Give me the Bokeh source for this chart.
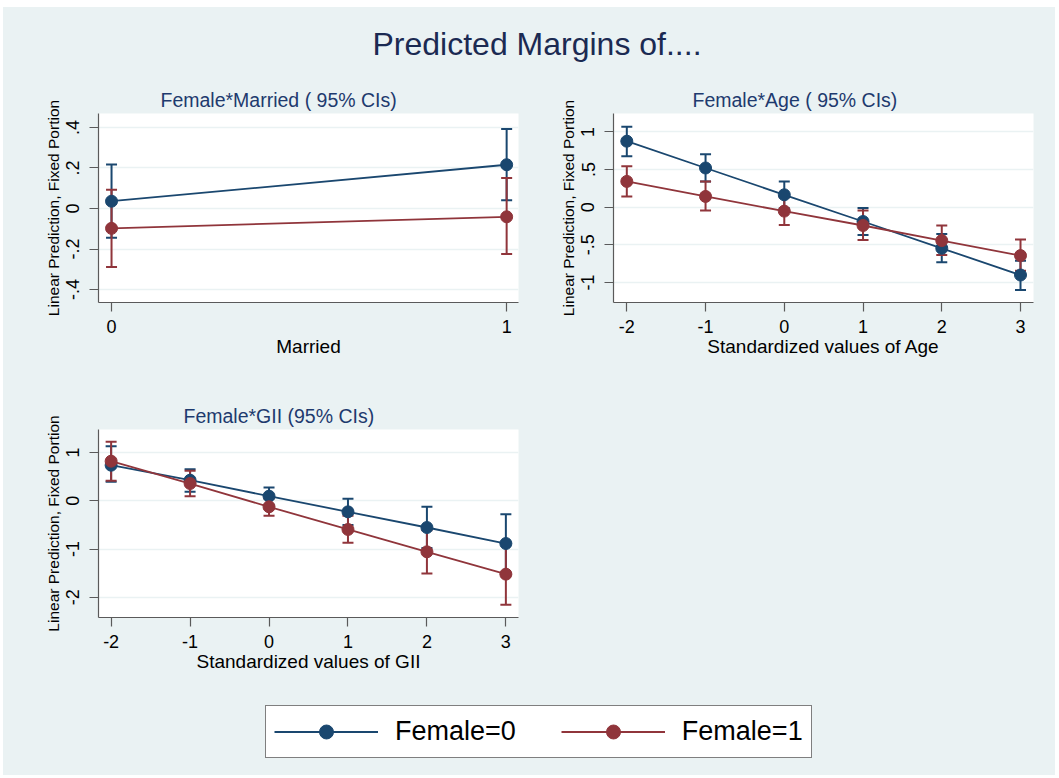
import math
from bokeh.plotting import figure
from bokeh.layouts import column, row
from bokeh.models import FixedTicker, Legend, LegendItem, ColumnDataSource, Spacer
from bokeh.embed import file_html
from bokeh.resources import INLINE

BG = "#EAF2F3"
NAVY = "#1A476F"
MAROON = "#90353B"
AXIS = "#5A5A5A"
SUBT = "#1E3A6E"
FONT = "Liberation Sans"
NAN = float("nan")

# ---------------- data ----------------
married_x = [0, 1]
married_xlabels = ["0", "1"]
married_f0 = [0.036, 0.216]
married_f0_lo = [-0.144, 0.041]
married_f0_hi = [0.217, 0.392]
married_f1 = [-0.098, -0.041]
married_f1_lo = [-0.289, -0.225]
married_f1_hi = [0.093, 0.150]

age_x = [-2, -1, 0, 1, 2, 3]
age_xlabels = ["-2", "-1", "0", "1", "2", "3"]
age_f0 = [0.876, 0.520, 0.164, -0.191, -0.547, -0.902]
age_f0_lo = [0.676, 0.342, -0.014, -0.369, -0.733, -1.102]
age_f0_hi = [1.067, 0.702, 0.342, -0.013, -0.356, -0.711]
age_f1 = [0.342, 0.142, -0.053, -0.244, -0.444, -0.644]
age_f1_lo = [0.142, -0.044, -0.236, -0.436, -0.636, -0.844]
age_f1_hi = [0.542, 0.342, 0.130, -0.044, -0.244, -0.431]

gii_x = [-2, -1, 0, 1, 2, 3]
gii_xlabels = ["-2", "-1", "0", "1", "2", "3"]
gii_f0 = [0.739, 0.428, 0.097, -0.228, -0.553, -0.885]
gii_f0_lo = [0.394, 0.187, -0.080, -0.500, -0.980, -1.490]
gii_f0_hi = [1.133, 0.657, 0.276, 0.041, -0.124, -0.276]
gii_f1 = [0.822, 0.359, -0.124, -0.594, -1.057, -1.520]
gii_f1_lo = [0.415, 0.097, -0.311, -0.871, -1.507, -2.156]
gii_f1_hi = [1.223, 0.622, 0.048, -0.310, -0.608, -0.870]

married_yticks = [-0.4, -0.2, 0, 0.2, 0.4]
married_ylabels = ["-.4", "-.2", "0", ".2", ".4"]
age_yticks = [-1, -0.5, 0, 0.5, 1]
age_ylabels = ["-1", "-.5", "0", ".5", "1"]
gii_yticks = [-2, -1, 0, 1]
gii_ylabels = ["-2", "-1", "0", "1"]

main_title = "Predicted Margins of...."
series_labels = ["Female=0", "Female=1"]


def panel(title, xlabel, xr, yr, xticks, xlabels, yticks, ylabels, width, height,
          mleft, mright, mtop, mbottom, toffset):
    p = figure(width=width, height=height, x_range=xr, y_range=yr,
               output_backend="svg", toolbar_location=None,
               min_border_left=mleft, min_border_right=mright,
               min_border_top=mtop, min_border_bottom=mbottom)
    p.background_fill_color = "white"
    p.border_fill_color = BG
    p.outline_line_color = None
    p.title.text = title
    p.title.align = "left"
    p.title.offset = toffset
    p.title.text_font = FONT
    p.title.text_font_size = "19.5px"
    p.title.text_font_style = "normal"
    p.title.text_color = SUBT
    p.title.standoff = 5
    p.xgrid.visible = False
    p.ygrid.grid_line_color = BG
    p.ygrid.grid_line_width = 1.6
    for ax in (p.xaxis[0], p.yaxis[0]):
        ax.axis_line_color = AXIS
        ax.axis_line_width = 1.2
        ax.major_tick_line_color = AXIS
        ax.major_tick_line_width = 1.2
        ax.major_tick_out = 9
        ax.major_tick_in = 0
        ax.minor_tick_line_color = None
        ax.major_label_text_font = FONT
        ax.major_label_text_font_size = "18px"
        ax.major_label_text_color = "black"
        ax.axis_label_text_font = FONT
        ax.axis_label_text_font_style = "normal"
        ax.axis_label_text_color = "black"
    p.xaxis.ticker = FixedTicker(ticks=xticks)
    p.xaxis.major_label_overrides = {t: l for t, l in zip(xticks, xlabels)}
    p.yaxis.ticker = FixedTicker(ticks=yticks)
    p.yaxis.major_label_overrides = {t: l for t, l in zip(yticks, ylabels)}
    p.yaxis.major_label_orientation = "vertical"
    p.xaxis.axis_label = xlabel
    p.xaxis.axis_label_text_font_size = "19px"
    p.xaxis.major_label_standoff = 8
    p.xaxis.axis_label_standoff = 0
    p.yaxis.axis_label = "Linear Prediction, Fixed Portion"
    p.yaxis.axis_label_text_font_size = "15.5px"
    p.yaxis.major_label_standoff = 10
    p.yaxis.axis_label_standoff = 2
    return p


def add_ci(p, x, lo, hi, color):
    src = ColumnDataSource(dict(x=x, lo=lo, hi=hi))
    p.segment(x0="x", y0="lo", x1="x", y1="hi", source=src,
              line_color=color, line_width=2)
    p.scatter(x="x", y="lo", marker="dash", size=11, source=src,
              line_color=color, line_width=2)
    p.scatter(x="x", y="hi", marker="dash", size=11, source=src,
              line_color=color, line_width=2)


def add_line(p, x, y, color):
    src = ColumnDataSource(dict(x=x, y=y))
    p.line(x="x", y="y", source=src, line_color=color, line_width=1.8)
    p.scatter(x="x", y="y", source=src, size=12, fill_color=color,
              line_color=color, marker="circle")


def fill(p, x, f0, f0lo, f0hi, f1, f1lo, f1hi):
    add_ci(p, x, f0lo, f0hi, NAVY)
    add_ci(p, x, f1lo, f1hi, MAROON)
    add_line(p, x, f0, NAVY)
    add_line(p, x, f1, MAROON)


p1 = panel("Female*Married ( 95% CIs)", "Married", (-0.033, 1.030), (-0.464, 0.469),
           married_x, married_xlabels, married_yticks, married_ylabels,
           542, 320, 95, 27, 38, 93, 62)
fill(p1, married_x, married_f0, married_f0_lo, married_f0_hi,
     married_f1, married_f1_lo, married_f1_hi)

p2 = panel("Female*Age ( 95% CIs)", "Standardized values of Age", (-2.169, 3.165), (-1.267, 1.244),
           age_x, age_xlabels, age_yticks, age_ylabels,
           510, 320, 68, 22, 38, 93, 79)
fill(p2, age_x, age_f0, age_f0_lo, age_f0_hi, age_f1, age_f1_lo, age_f1_hi)

p3 = panel("Female*GII (95% CIs)", "Standardized values of GII", (-2.160, 3.160), (-2.419, 1.479),
           gii_x, gii_xlabels, gii_yticks, gii_ylabels,
           542, 295, 95, 27, 34, 73, 85)
fill(p3, gii_x, gii_f0, gii_f0_lo, gii_f0_hi, gii_f1, gii_f1_lo, gii_f1_hi)


def blank(width, height):
    b = figure(width=width, height=height, x_axis_type=None, y_axis_type=None,
               output_backend="svg", toolbar_location=None, min_border=0)
    b.background_fill_color = BG
    b.border_fill_color = BG
    b.outline_line_color = None
    b.xgrid.visible = False
    b.ygrid.visible = False
    return b


# title strip
tf = blank(1052, 68)
tf.min_border_top = 54
tf.title.text = main_title
tf.title.align = "left"
tf.title.offset = 369
tf.title.text_font = FONT
tf.title.text_font_size = "32px"
tf.title.text_font_style = "normal"
tf.title.text_color = "#1B2A52"
tf.title.standoff = 0

spacer = blank(510, 295)

# legend strip
lf = blank(1052, 85)
lf.x_range.start, lf.x_range.end = 0, 1
lf.y_range.start, lf.y_range.end = 0, 1
r0l = lf.line(x=[NAN], y=[NAN], line_color=NAVY, line_width=2)
r0s = lf.scatter(x=[NAN], y=[NAN], fill_color=NAVY, line_color=NAVY, size=14)
r1l = lf.line(x=[NAN], y=[NAN], line_color=MAROON, line_width=2)
r1s = lf.scatter(x=[NAN], y=[NAN], fill_color=MAROON, line_color=MAROON, size=14)
legend = Legend(items=[LegendItem(label=series_labels[0], renderers=[r0l, r0s]),
                       LegendItem(label=series_labels[1], renderers=[r1l, r1s])],
                orientation="horizontal", location=(262, 17))
legend.border_line_color = "black"
legend.border_line_width = 1.5
legend.background_fill_color = "white"
legend.background_fill_alpha = 1
legend.label_text_font = FONT
legend.label_text_font_size = "27px"
legend.label_text_color = "black"
legend.glyph_width = 104
legend.glyph_height = 35
legend.label_standoff = 17
legend.spacing = 45
legend.padding = 8
legend.margin = 0
lf.add_layout(legend)

bgstyle = {"background-color": BG}
inner = column(tf, row(p1, p2, styles=bgstyle), row(p3, spacer, styles=bgstyle), lf,
               styles=bgstyle)
layout = row(Spacer(width=3, height=10), column(Spacer(width=10, height=7), inner))

open("out.html", "w").write(file_html(layout, INLINE))
